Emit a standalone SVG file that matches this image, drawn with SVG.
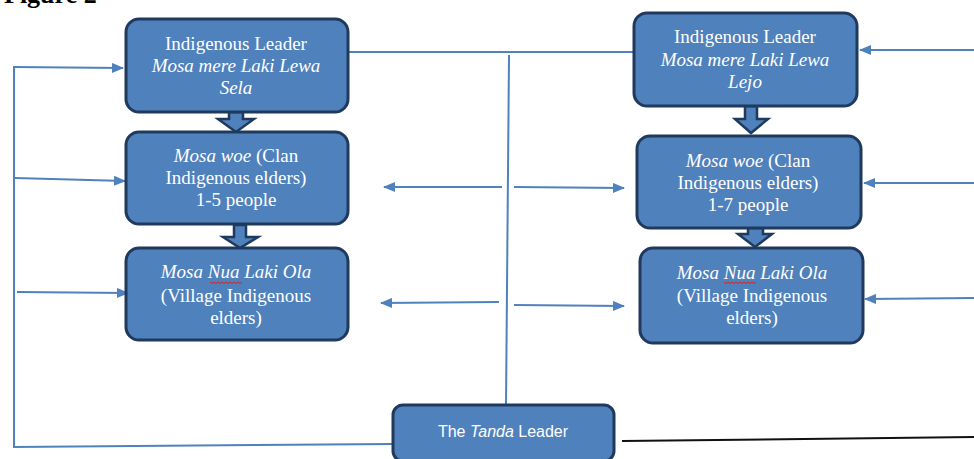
<svg xmlns="http://www.w3.org/2000/svg" width="974" height="459" viewBox="0 0 974 459">
<style>
.box{fill:#4F81BD;stroke:#1F3A5C;stroke-width:3}
.t{font-family:"Liberation Serif","Times New Roman",serif;font-size:19px;fill:#fff;text-anchor:middle}
.s{font-family:"Liberation Sans",Arial,sans-serif;font-size:16px;fill:#fff;text-anchor:middle}
.i{font-style:italic}
.ln{fill:none;stroke:#4F81BD;stroke-width:2}
.blk{fill:#4F81BD;stroke:#1F3A5C;stroke-width:2.5;stroke-linejoin:miter}
.sq{fill:none;stroke:#E02020;stroke-width:1}
</style>
<defs>
<marker id="ah" viewBox="0 0 12 10" refX="11" refY="5" markerWidth="12" markerHeight="10" markerUnits="userSpaceOnUse" orient="auto">
<path d="M0,0 L12,5 L0,10 Z" fill="#4F81BD"/>
</marker>
</defs>
<text x="4" y="3" font-family="Liberation Serif, serif" font-weight="bold" font-size="26" fill="#000">Figure 2</text>

<g id="connectors">
<line class="ln" x1="348" y1="52" x2="634" y2="52"/>
<line class="ln" x1="509" y1="55" x2="506" y2="405"/>
<line class="ln" x1="502" y1="187" x2="384" y2="187" marker-end="url(#ah)"/>
<line class="ln" x1="514" y1="187" x2="624" y2="188" marker-end="url(#ah)"/>
<line class="ln" x1="499" y1="302" x2="381" y2="303" marker-end="url(#ah)"/>
<line class="ln" x1="514" y1="305" x2="624" y2="306" marker-end="url(#ah)"/>
<polyline class="ln" points="14,67 14,447 393,444"/>
<line class="ln" x1="13" y1="67" x2="123" y2="68" marker-end="url(#ah)"/>
<line class="ln" x1="15" y1="178" x2="125" y2="181" marker-end="url(#ah)"/>
<line class="ln" x1="17" y1="292" x2="128" y2="293" marker-end="url(#ah)"/>
<line class="ln" x1="974" y1="50" x2="860" y2="50" marker-end="url(#ah)"/>
<line class="ln" x1="974" y1="183" x2="864" y2="183" marker-end="url(#ah)"/>
<line class="ln" x1="974" y1="298" x2="865" y2="299" marker-end="url(#ah)"/>
<line x1="622" y1="441" x2="974" y2="437" stroke="#111" stroke-width="2"/>
<path class="blk" d="M229,112 H243 V119 H254 L236,132 L218,119 H229 Z"/>
<path class="blk" d="M234,225 H246 V237 H258 L240,248 L223,237 H234 Z"/>
<path class="blk" d="M745,106 H757 V119 H768 L751,133 L735,119 H745 Z"/>
<path class="blk" d="M748,228 H763 V234 H772 L755,247 L738,234 H748 Z"/>
</g>

<g id="node-leader-sela">
<rect class="box" x="126" y="19" width="222" height="93" rx="13"/>
<text class="t" x="236" y="50">Indigenous Leader</text>
<text class="t i" x="236" y="72">Mosa mere Laki Lewa</text>
<text class="t i" x="236" y="94">Sela</text>
</g>

<g id="node-mosawoe-left">
<rect class="box" x="126" y="132" width="222" height="92" rx="13"/>
<text class="t" x="236" y="162"><tspan class="i">Mosa woe</tspan> (Clan</text>
<text class="t" x="236" y="184">Indigenous elders)</text>
<text class="t" x="236" y="206">1-5 people</text>
</g>

<g id="node-mosanua-left">
<rect class="box" x="126" y="248" width="222" height="92" rx="13"/>
<text class="t i" x="236" y="278">Mosa Nua Laki Ola</text>
<path class="sq" d="M210,282 l2,1.5 l2,-1.5 l2,1.5 l2,-1.5 l2,1.5 l2,-1.5 l2,1.5 l2,-1.5 l2,1.5 l2,-1.5 l2,1.5 l2,-1.5 l2,1.5 l2,-1.5 l2,1.5 l2,-1.5"/>
<text class="t" x="236" y="302">(Village Indigenous</text>
<text class="t" x="236" y="324">elders)</text>
</g>

<g id="node-leader-lejo">
<rect class="box" x="634" y="13" width="223" height="93" rx="13"/>
<text class="t" x="745" y="43">Indigenous Leader</text>
<text class="t i" x="745" y="66">Mosa mere Laki Lewa</text>
<text class="t i" x="745" y="88">Lejo</text>
</g>

<g id="node-mosawoe-right">
<rect class="box" x="637" y="136" width="224" height="92" rx="13"/>
<text class="t" x="748" y="167"><tspan class="i">Mosa woe</tspan> (Clan</text>
<text class="t" x="748" y="189">Indigenous elders)</text>
<text class="t" x="748" y="211">1-7 people</text>
</g>

<g id="node-mosanua-right">
<rect class="box" x="640" y="248" width="223" height="95" rx="13"/>
<text class="t i" x="752" y="279">Mosa Nua Laki Ola</text>
<path class="sq" d="M724,282 l2,1.5 l2,-1.5 l2,1.5 l2,-1.5 l2,1.5 l2,-1.5 l2,1.5 l2,-1.5 l2,1.5 l2,-1.5 l2,1.5 l2,-1.5 l2,1.5 l2,-1.5 l2,1.5 l2,-1.5"/>
<text class="t" x="752" y="302">(Village Indigenous</text>
<text class="t" x="752" y="324">elders)</text>
</g>

<g id="node-tanda">
<rect class="box" x="393" y="405" width="221" height="56" rx="10"/>
<text class="s" x="503" y="437">The <tspan class="i">Tanda</tspan> Leader</text>
</g>
</svg>
